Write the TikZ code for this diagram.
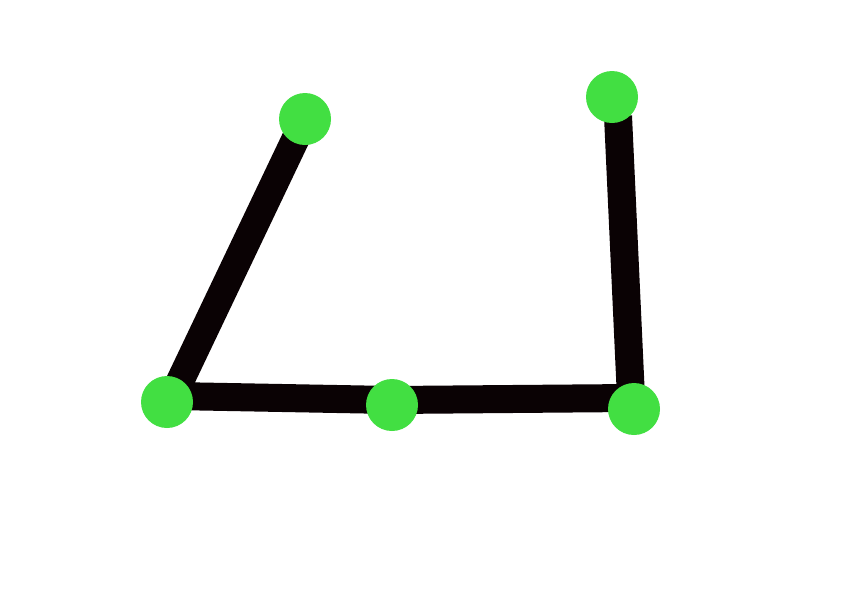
\documentclass[tikz,border=0pt]{standalone}
\begin{document}
\begin{tikzpicture}[x=1pt,y=-1pt,
  dot/.style={circle,fill=dotgreen,minimum size=52pt,inner sep=0pt},
  bar/.style={line width=28pt,draw=barblack,line join=round}]
\definecolor{dotgreen}{HTML}{42DF42}
\definecolor{barblack}{HTML}{0A0204}
\useasboundingbox (0,0) rectangle (842,595);
\coordinate (p1) at (305,119);
\coordinate (p2) at (167,402);
\coordinate (p3) at (392,405);
\coordinate (p4) at (634,409);
\coordinate (p5) at (612,97);
\coordinate (t5) at (618,116);
\draw[bar] (p1) -- ([shift={(6,-6)}]p2) -- ([yshift=5pt]p3) -- ([shift={(-3,-11)}]p4) -- (t5);
\node[dot] (a) at (p1) {};
\node[dot] (b) at (p2) {};
\node[dot] (c) at (p3) {};
\node[dot] (d) at (p4) {};
\node[dot] (e) at (p5) {};
\end{tikzpicture}
\end{document}
